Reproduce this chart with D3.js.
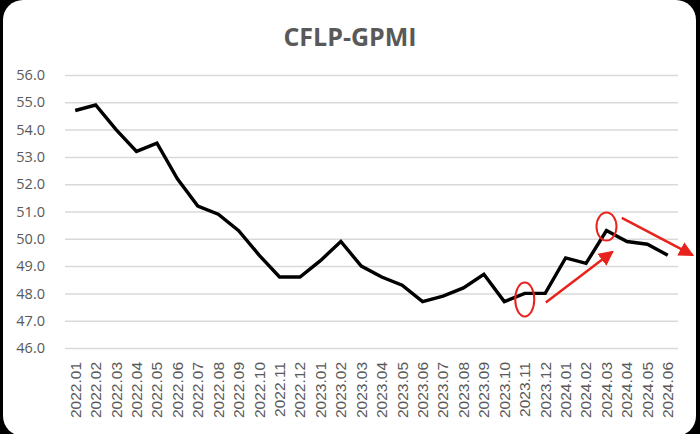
<!DOCTYPE html>
<html><head><meta charset="utf-8">
<script src="https://cdn.jsdelivr.net/npm/d3@7/dist/d3.min.js"></script>
<style>html,body{margin:0;padding:0;background:#000;}svg{display:block;}</style>
</head><body><svg id="c" width="700" height="434"></svg>
<script>
const months = ["2022.01","2022.02","2022.03","2022.04","2022.05","2022.06","2022.07","2022.08","2022.09","2022.10","2022.11","2022.12",
"2023.01","2023.02","2023.03","2023.04","2023.05","2023.06","2023.07","2023.08","2023.09","2023.10","2023.11","2023.12",
"2024.01","2024.02","2024.03","2024.04","2024.05","2024.06"];
const gpmi = [54.7,54.9,54.0,53.2,53.5,52.2,51.2,50.9,50.3,49.4,48.6,48.6,
49.2,49.9,49.0,48.6,48.3,47.7,47.9,48.2,48.7,47.7,48.0,48.0,
49.3,49.1,50.3,49.9,49.8,49.4];
const yTicks = [46,47,48,49,50,51,52,53,54,55,56];
// annotations (in data space: category index, value)
const circled = ["2023.11","2024.03"];
const arrows = [
  {x0:23.03,y0:47.67,x1:26.3,y1:49.53},
  {x0:26.75,y0:50.77,x1:30.22,y1:49.4}
];

const svg = d3.select("#c");
svg.append("rect").attr("x",0).attr("y",0).attr("width",700).attr("height",434).attr("fill","#000");
svg.append("rect").attr("x",3).attr("y",0).attr("width",693).attr("height",436).attr("rx",20).attr("fill","#fff");

const x = d3.scaleBand().domain(months).range([65,678]);
const y = d3.scaleLinear().domain([46,56]).range([348,75]);
const xc = d => x(d) + x.bandwidth()/2;
const xi = i => x(months[0]) + x.bandwidth()/2 + i*x.step();

svg.append("text").attr("x",350).attr("y",46).attr("text-anchor","middle")
  .attr("font-family","Open Sans, Liberation Sans, sans-serif").attr("font-weight","bold")
  .attr("font-size",25).attr("fill","#595959").text("CFLP-GPMI");

const yAxis = d3.axisLeft(y).tickValues(yTicks).tickFormat(d3.format(".1f")).tickSize(-(678-65)).tickPadding(20);
const gy = svg.append("g").attr("transform","translate(65,0)").call(yAxis);
gy.select(".domain").remove();
gy.selectAll(".tick line").attr("stroke","#d9d9d9").attr("stroke-width",1.5);
gy.selectAll(".tick text").attr("font-family","Open Sans, Liberation Sans, sans-serif").attr("font-size",14.5).attr("fill","#595959");

const xAxis = d3.axisBottom(x).tickSize(0).tickPadding(0);
const gx = svg.append("g").attr("transform","translate(0,348)").call(xAxis);
gx.select(".domain").remove();
gx.selectAll(".tick text")
  .attr("font-family","Liberation Sans, Arial, sans-serif").attr("font-size",15.5).attr("fill","#595959")
  .attr("transform","rotate(-90)").attr("text-anchor","end").attr("x",-14).attr("y",0).attr("dy","0.35em");

const line = d3.line().x((d,i)=>xc(months[i])).y(d=>y(d));
svg.append("path").datum(gpmi).attr("d",line).attr("fill","none").attr("stroke","#000")
  .attr("stroke-width",3.4).attr("stroke-linejoin","miter");

const red = "#e8221c";
svg.append("defs").append("marker").attr("id","ah").attr("viewBox","0 0 10 10").attr("refX",9).attr("refY",5)
  .attr("markerWidth",6).attr("markerHeight",6).attr("markerUnits","strokeWidth").attr("orient","auto")
  .append("path").attr("d","M0,0 L10,5 L0,10 Z").attr("fill",red);

circled.forEach((m,k)=>{
  const i = months.indexOf(m);
  svg.append("ellipse").attr("cx",xc(m)).attr("cy",y(gpmi[i]) + (k===0?6:-4))
    .attr("rx",k===0?9.5:10).attr("ry",k===0?17:14).attr("fill","none").attr("stroke",red).attr("stroke-width",2);
});
arrows.forEach(a=>{
  svg.append("line").attr("x1",xi(a.x0)).attr("y1",y(a.y0)).attr("x2",xi(a.x1)).attr("y2",y(a.y1))
    .attr("stroke",red).attr("stroke-width",2.5).attr("marker-end","url(#ah)");
});
</script></body></html>
